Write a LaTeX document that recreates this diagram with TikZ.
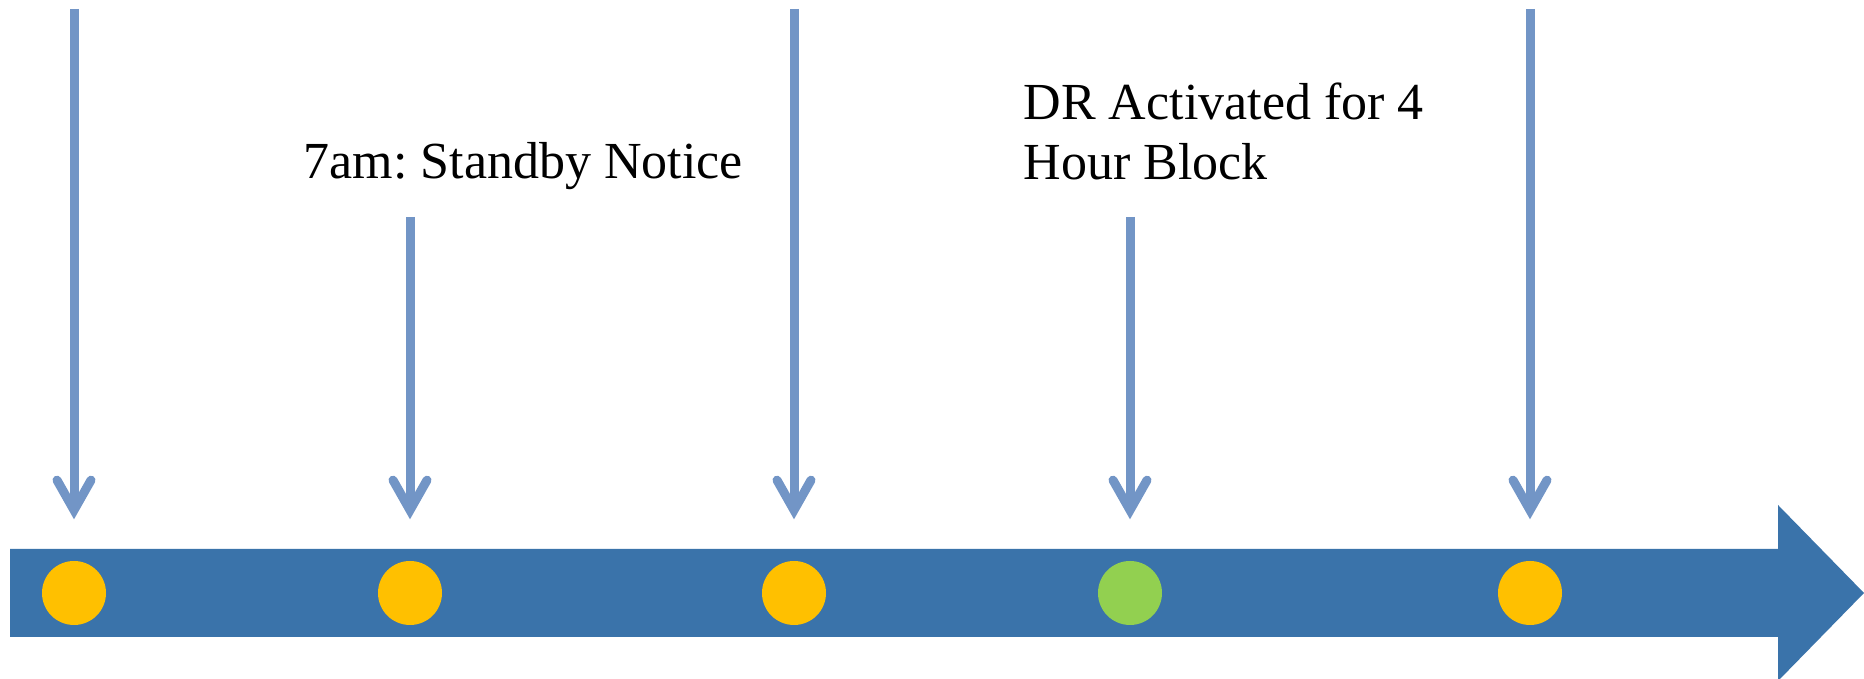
\documentclass[tikz,border=0pt]{standalone}
\usepackage{fontspec}
\setmainfont{Liberation Serif}
\usepackage{tikz}
\usetikzlibrary{arrows.meta}
\usetikzlibrary{calc}
\definecolor{barblue}{HTML}{3A73AA}
\definecolor{pinblue}{HTML}{7295C6}
\definecolor{amber}{HTML}{FFC000}
\definecolor{lime}{HTML}{92D050}
\tikzset{
	edge/.style={-{Straight Barb[length=0.3cm, width=0.34cm, line cap=round, line join=miter]}, draw=pinblue, line width=0.09cm, shorten >=0.41cm}
}
\tikzset{
	dot/.style={fill, draw=none, circle, minimum size=0.64cm, inner sep=0pt},
	note/.style={anchor=base west, align=left, inner sep=0pt, font=\fontsize{14.8}{17.07}\selectfont\frenchspacing}
}

\begin{document}
\begin{tikzpicture}
\useasboundingbox (0, 0) rectangle (18.64, 6.79);

% time line
\fill[barblue] (0.10, 0.42) -- (17.78, 0.42) -- (17.78, -0.02) -- (18.64, 0.86)
	-- (17.78, 1.74) -- (17.78, 1.30) -- (0.10, 1.30) -- cycle;

\node[dot, amber] (D1) at (0.74, 0.86) {};
\node[dot, amber] (D2) at (4.10, 0.86) {};
\node[dot, amber] (D3) at (7.94, 0.86) {};
\node[dot, lime] (D4) at (11.30, 0.86) {};
\node[dot, amber] (D5) at (15.30, 0.86) {};

\coordinate (T1) at (0.74, 6.70);
\coordinate (T2) at (4.10, 4.62);
\coordinate (T3) at (7.94, 6.70);
\coordinate (T4) at (11.30, 4.62);
\coordinate (T5) at (15.30, 6.70);

\node[note] (standby) at (3.03, 5.00) {7am: Standby Notice};
\node[note] (activated) at (10.23, 4.99) {DR Activated for 4\\Hour Block};

\draw[edge] (T1) to (D1.north);
\draw[edge] (T2) to (D2.north);
\draw[edge] (T3) to (D3.north);
\draw[edge] (T4) to (D4.north);
\draw[edge] (T5) to (D5.north);
\end{tikzpicture}
\end{document}
